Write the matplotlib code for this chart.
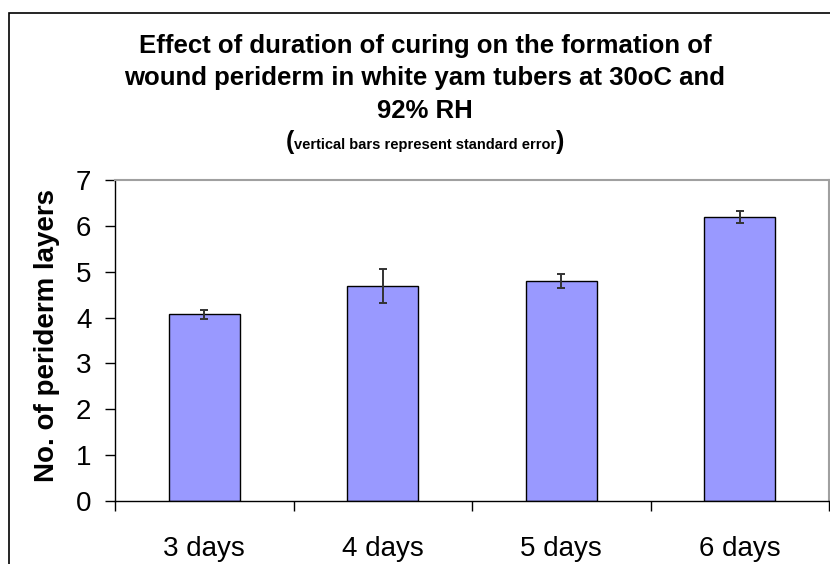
import matplotlib
matplotlib.use("Agg")
import matplotlib.pyplot as plt
from matplotlib.patches import Rectangle
import numpy as np

plt.rcParams['font.family'] = ['Liberation Sans', 'DejaVu Sans']

# curing duration vs. number of periderm layers (mean and standard error)
days = ['3 days', '4 days', '5 days', '6 days']
layers = [4.07, 4.68, 4.80, 6.20]
std_err = [0.10, 0.37, 0.16, 0.13]
yticks = [0, 1, 2, 3, 4, 5, 6, 7]

W, H = 830, 564
fig = plt.figure(figsize=(W / 100, H / 100), dpi=100)

# chart frame (runs off the right and bottom edges)
fig.patches.append(Rectangle((9 / W, -0.1), 1.2, 1 - 13 / H + 0.1, transform=fig.transFigure,
                             fill=False, edgecolor='black', linewidth=1.2, clip_on=False))

ax = fig.add_axes([115 / W, 1 - 501 / H, 714 / W, 321 / H])
x = np.arange(len(days))
ax.bar(x, layers, width=0.4, color='#9999FF', edgecolor='black', linewidth=1, zorder=2)
ax.errorbar(x, layers, yerr=std_err, fmt='none', ecolor='#333333', elinewidth=1.4,
            capsize=3, capthick=1.4, zorder=3)

ax.set_xlim(-0.5, 3.5)
ax.set_ylim(0, 7)
ax.set_yticks(yticks)
ax.set_yticklabels([str(t) for t in yticks], fontsize=20)
ax.tick_params(axis='y', direction='out', length=7, width=1, pad=10)

ax.set_xticks(x)
ax.set_xticklabels(days, fontsize=20)
ax.set_xticks(np.arange(-0.5, 4, 1), minor=True)
ax.tick_params(axis='x', which='major', length=0, pad=25)
ax.tick_params(axis='x', which='minor', direction='out', length=7, width=1)

for side in ['top', 'right']:
    ax.spines[side].set_color('#a0a0a0')
    ax.spines[side].set_linewidth(1.5)
for side in ['left', 'bottom']:
    ax.spines[side].set_color('black')
    ax.spines[side].set_linewidth(1)

fig.text(47 / W, 1 - 336 / H, 'No. of periderm layers', rotation=90, ha='center', va='center',
         fontsize=20, fontweight='bold')

cx = 425 / W
fig.text(cx, 1 - 118 / H,
         'Effect of duration of curing on the formation of\n'
         'wound periderm in white yam tubers at 30oC and\n'
         '92% RH',
         ha='center', va='baseline', fontsize=18.5, fontweight='bold', linespacing=1.45)

# subtitle: small bold text between large parentheses
sub_y = 1 - 149 / H
sub = fig.text(cx, sub_y, 'vertical bars represent standard error', ha='center', va='baseline',
               fontsize=10.5, fontweight='bold')
renderer = fig.canvas.get_renderer()
bb = sub.get_window_extent(renderer).transformed(fig.transFigure.inverted())
fig.text(bb.x0, sub_y, '(', ha='right', va='baseline', fontsize=18, fontweight='bold')
fig.text(bb.x1, sub_y, ')', ha='left', va='baseline', fontsize=18, fontweight='bold')

fig.savefig('out.png', dpi=100)
